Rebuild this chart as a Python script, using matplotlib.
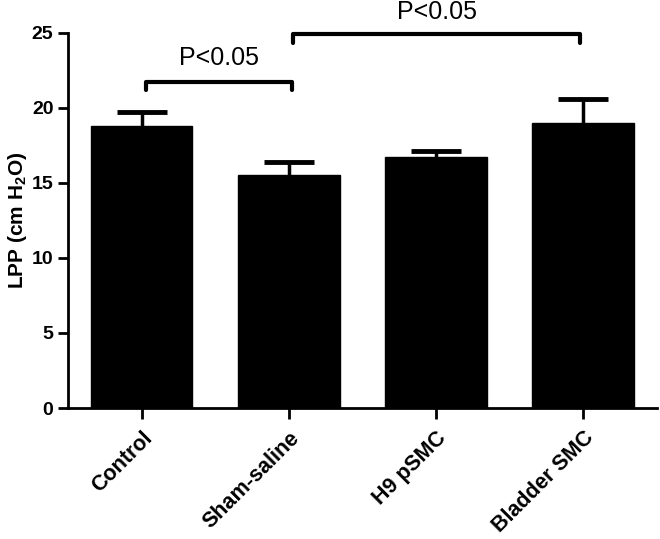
import matplotlib.pyplot as plt

plt.rcParams['font.family'] = ['Liberation Sans', 'DejaVu Sans']
plt.rcParams['mathtext.default'] = 'regular'

# 数据
groups = ["Control", "Sham-saline", "H9 pSMC", "Bladder SMC"]
lpp_mean = [18.8, 15.5, 16.7, 19.0]
lpp_err = [0.9, 0.9, 0.45, 1.6]
y_ticks = [0, 5, 10, 15, 20, 25]

fig = plt.figure(figsize=(6.6, 5.39), dpi=100)
ax = fig.add_axes([0.103, 0.243, 0.892, 0.696])

x = list(range(len(groups)))
ax.bar(x, lpp_mean, width=0.69, color="black", edgecolor="black")
# 只画向上的误差线
tops = [m + e for m, e in zip(lpp_mean, lpp_err)]
ax.vlines(x, lpp_mean, tops, color="black", lw=2.5)
ax.hlines(tops, [i - 0.17 for i in x], [i + 0.17 for i in x], color="black",
          lw=3.5)

ax.set_xlim(-0.5, 3.5)
ax.set_ylim(0, 25)
ax.set_yticks(y_ticks)
ax.set_xticks(x)
ax.set_xticklabels(groups, rotation=45, ha="right", rotation_mode="anchor",
                   fontsize=15.5, fontweight="bold")
for lab in ax.get_yticklabels():
    lab.set_fontsize(14)
    lab.set_fontweight("bold")
ax.set_ylabel("LPP (cm H$_2$O)", fontsize=15, fontweight="bold", labelpad=2)

for s in ["top", "right"]:
    ax.spines[s].set_visible(False)
for s in ["left", "bottom"]:
    ax.spines[s].set_linewidth(2)
ax.tick_params(axis="both", width=2, length=7, direction="out")
ax.tick_params(axis="x", length=8, pad=6)

# 显著性标注
def bracket(x1, x2, y, drop, label, ty):
    ax.plot([x1, x1, x2, x2], [y - drop, y, y, y - drop], color="black",
            lw=3, clip_on=False, solid_capstyle="round")
    ax.text((x1 + x2) / 2, ty, label, ha="center", va="center", fontsize=18)

bracket(0.03, 1.02, 21.7, 0.5, "P<0.05", 23.3)
bracket(1.03, 2.98, 24.9, 0.55, "P<0.05", 26.4)

fig.savefig("out.png", dpi=100)
